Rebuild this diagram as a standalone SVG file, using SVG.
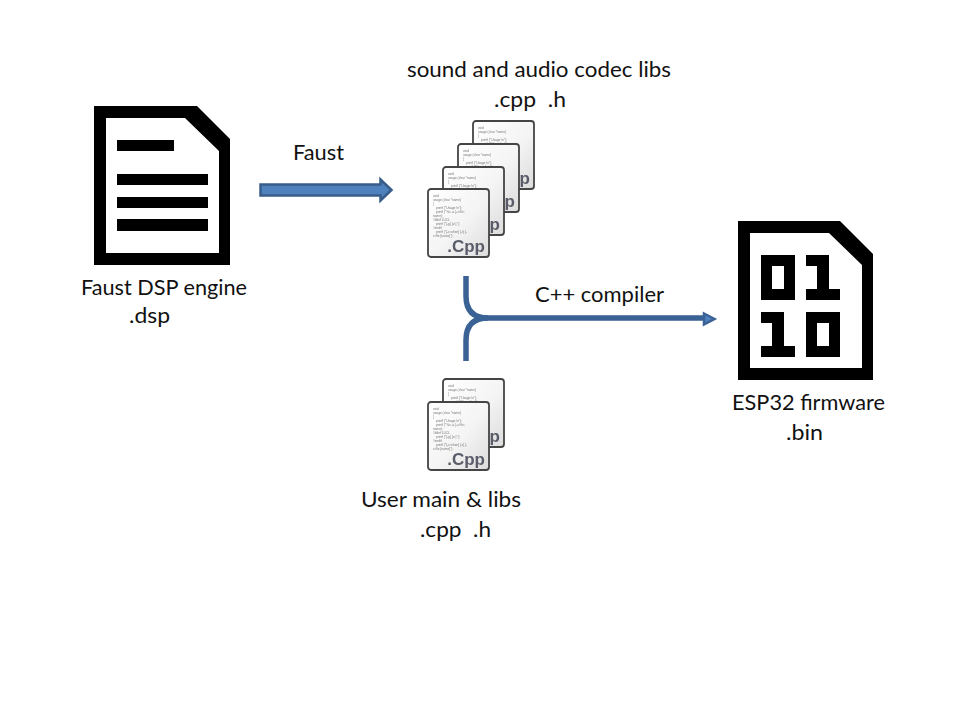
<svg xmlns="http://www.w3.org/2000/svg" width="960" height="720" viewBox="0 0 960 720">
<style>
.t{font-family:Lato,"Liberation Sans",sans-serif;font-size:21px;fill:#111}
.code{font-family:"Liberation Sans",sans-serif;font-size:3.2px;fill:#777}
.cpp{font-family:"Liberation Sans",sans-serif;font-size:17px;font-weight:bold;fill:#5a5d69}
.flow{fill:none;stroke:#3a6294;stroke-width:5.5}
</style>
<defs>
<linearGradient id="page" x1="0" y1="0" x2="1" y2="1">
<stop offset="0" stop-color="#fff"/><stop offset="0.55" stop-color="#f4f4f4"/><stop offset="1" stop-color="#dcdcdc"/>
</linearGradient>
<filter id="soft" x="-5%" y="-5%" width="110%" height="110%"><feGaussianBlur stdDeviation="0.35"/></filter>
<g id="cppdoc" filter="url(#soft)">
<rect x="1" y="1" width="61" height="68" rx="3" fill="url(#page)" stroke="#444" stroke-width="1.800"/>
<text class="code"><tspan x="6" y="9">void</tspan><tspan x="6" y="13">usage (char *name)</tspan><tspan x="6" y="17">{</tspan><tspan x="9" y="21">printf ("Usage:\n");</tspan><tspan x="9" y="25">printf ("%s -a [-x file;</tspan><tspan x="6" y="29">name);</tspan><tspan x="6" y="33">#ifdef LUCL</tspan><tspan x="9" y="37">printf ("[-g] [-n] ");</tspan><tspan x="6" y="41">#endif</tspan><tspan x="9" y="45">printf ("[-x when] [-r] [-</tspan><tspan x="6" y="49">x file [name]");</tspan></text>
<text class="cpp" x="58" y="64" text-anchor="end">.Cpp</text>
</g>
</defs>
<rect width="960" height="720" fill="#fff"/>
<g id="connectors">
<path id="faust-arrow" d="M260.500 184.500H380.500V179.500L391.500 190L380.500 200.500V195.500H260.500Z" fill="#4f81bd" stroke="#385d8a" stroke-width="2.500"/>
<path class="flow" d="M466 276V296Q466 318 488 318H706"/>
<path class="flow" d="M466 361V340Q466 318 488 318"/>
<path d="M704 313.500L714.500 319L704 324.500Z" fill="#4f81bd" stroke="#3a6294" stroke-width="2.500"/>
</g>
<g id="dsp-file">
<path d="M94 106H197L230 139V265H94ZM106 118V253H219V151L185 118Z" fill="#000" fill-rule="evenodd"/>
<path d="M117 140H174V151H117ZM117 174H208V185H117ZM117 197H208V208H117ZM117 219H208V231H117Z" fill="#000"/>
<text class="t" x="81" y="295" textLength="166" lengthAdjust="spacingAndGlyphs">Faust DSP engine</text>
<text class="t" x="129" y="323" textLength="41" lengthAdjust="spacingAndGlyphs">.dsp</text>
</g>
<g id="faust-label"><text class="t" x="293" y="160" textLength="51" lengthAdjust="spacingAndGlyphs">Faust</text></g>
<g id="codec-libs">
<text class="t" x="407" y="77" textLength="264" lengthAdjust="spacingAndGlyphs">sound and audio codec libs</text>
<text class="t" x="494" y="107" textLength="72" lengthAdjust="spacingAndGlyphs" xml:space="preserve">.cpp  .h</text>
<use href="#cppdoc" x="472" y="120"/>
<use href="#cppdoc" x="457" y="143"/>
<use href="#cppdoc" x="442" y="166"/>
<use href="#cppdoc" x="427" y="188"/>
</g>
<g id="user-libs">
<use href="#cppdoc" x="442" y="378"/>
<use href="#cppdoc" x="427" y="401"/>
<text class="t" x="361" y="507" textLength="160" lengthAdjust="spacingAndGlyphs">User main &amp; libs</text>
<text class="t" x="420" y="537" textLength="71" lengthAdjust="spacingAndGlyphs" xml:space="preserve">.cpp  .h</text>
</g>
<g id="compiler-label"><text class="t" x="535" y="302" textLength="129" lengthAdjust="spacingAndGlyphs">C++ compiler</text></g>
<g id="firmware">
<path d="M738 221H840L873 254V380H738ZM750 233V368H862V265L829 233Z" fill="#000" fill-rule="evenodd"/>
<path fill="#000" fill-rule="evenodd" d="M761 255H795V300H761ZM772 266V289H784V266ZM806 255H829V289H840V300H806V289H817V266H806ZM761 312H784V346H795V357H761V346H772V323H761ZM806 312H840V357H806ZM817 323V346H829V323Z"/>
<text class="t" x="732" y="410" textLength="153" lengthAdjust="spacingAndGlyphs">ESP32 firmware</text>
<text class="t" x="786" y="440" textLength="37" lengthAdjust="spacingAndGlyphs">.bin</text>
</g>
</svg>
